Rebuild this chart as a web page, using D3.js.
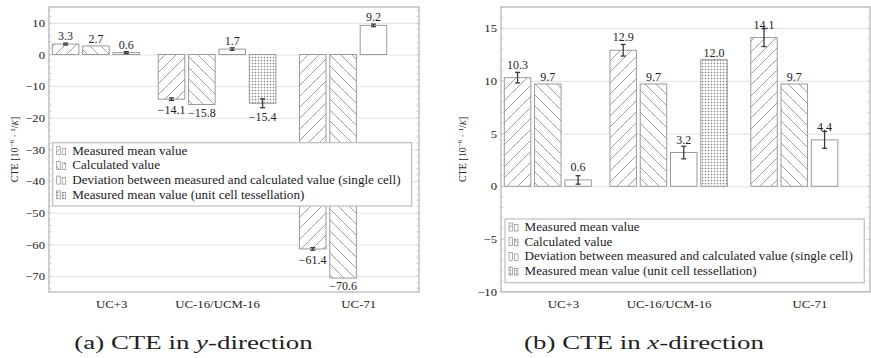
<!DOCTYPE html>
<html><head><meta charset="utf-8">
<script src="https://cdn.jsdelivr.net/npm/d3@7"></script>
<style>
body{margin:0;background:#fff}
svg{display:block}
text{font-family:"Liberation Serif","Times New Roman",serif;fill:#222}
</style>
</head><body>
<svg id="c" width="871" height="358"></svg>
<script>
// ---------------- data ----------------
const categories = ["UC+3", "UC-16/UCM-16", "UC-71"];
const categoryX = [0, 3, 7];
const seriesNames = [
  "Measured mean value",
  "Calculated value",
  "Deviation between measured and calculated value (single cell)",
  "Measured mean value (unit cell tessellation)"
];
// CTE in y-direction  [10^-6 1/K]
const cteYValues = [[3.3, -14.1, -61.4], [2.7, -15.8, -70.6], [0.6, 1.7, 9.2], [null, -15.4, null]];
const cteYErrors = [[0.3, 0.4, 0.4], [null, null, null], [0.3, 0.4, 0.4], [null, 1.4, null]];
// CTE in x-direction
const cteXValues = [[10.3, 12.9, 14.1], [9.7, 9.7, 9.7], [0.6, 3.2, 4.4], [null, 12.0, null]];
const cteXErrors = [[0.5, 0.55, 0.85], [null, null, null], [0.4, 0.6, 0.8], [null, null, null]];
const yTicksA = [-70, -60, -50, -40, -30, -20, -10, 0, 10];
const yTicksB = [-10, -5, 0, 5, 10, 15];
const captionA = ["(a) CTE in ", "y", "-direction"];
const captionB = ["(b) CTE in ", "x", "-direction"];

// ---------------- drawing ----------------
const svg = d3.select("#c");
const defs = svg.append("defs");
function hatch(id, d) {
  const p = defs.append("pattern").attr("id", id).attr("patternUnits", "userSpaceOnUse")
    .attr("width", 11).attr("height", 11);
  p.append("rect").attr("width", 11).attr("height", 11).attr("fill", "#fff");
  p.append("path").attr("d", d).attr("stroke", "#8c8c8c").attr("stroke-width", 0.8).attr("fill", "none");
}
hatch("ne", "M0,11L11,0M-2,2L2,-2M9,13L13,9");
hatch("nw", "M0,0L11,11M-2,9L2,13M9,-2L13,2");
const gp = defs.append("pattern").attr("id", "grid").attr("patternUnits", "userSpaceOnUse")
  .attr("width", 3).attr("height", 3);
gp.append("rect").attr("width", 3).attr("height", 3).attr("fill", "#fff");
gp.append("path").attr("d", "M0,0.5H3M0.5,0V3").attr("stroke", "#d4d4d4").attr("stroke-width", 0.6);
gp.append("rect").attr("width", 1.1).attr("height", 1.1).attr("fill", "#8a8a8a");
const fills = ["url(#ne)", "url(#nw)", "#fff", "url(#grid)"];

function stretch(sel, sx) {
  sel.each(function () {
    const L = this.getComputedTextLength();
    this.setAttribute("textLength", L * sx);
    this.setAttribute("lengthAdjust", "spacingAndGlyphs");
  });
}

function chart(cfg) {
  const x = d3.scaleLinear().domain([-1.76, 8.72]).range([cfg.left, cfg.right]);
  const y = d3.scaleLinear().domain(cfg.domain).range([cfg.bottom, cfg.top]);
  const W = cfg.right - cfg.left;
  const root = svg.append("g");

  // grid
  root.append("g").attr("transform", `translate(${cfg.left},0)`)
    .call(d3.axisLeft(y).tickValues(cfg.ticks).tickSize(-W).tickFormat(""))
    .call(g => { g.select(".domain").remove(); g.selectAll("line").attr("stroke", "#e2e2e2").attr("stroke-width", 1); });

  // minor ticks on both vertical sides
  const minors = d3.range(Math.ceil(cfg.domain[0] / cfg.minor) * cfg.minor, cfg.domain[1] + 1e-9, cfg.minor);
  const mt = root.append("g").attr("stroke", "#c8c8c8").attr("stroke-width", 0.8);
  minors.forEach(v => {
    mt.append("line").attr("x1", cfg.left).attr("x2", cfg.left + 2.5).attr("y1", y(v)).attr("y2", y(v));
    mt.append("line").attr("x1", cfg.right).attr("x2", cfg.right - 2.5).attr("y1", y(v)).attr("y2", y(v));
  });

  // bars
  const bw = x(0.752) - x(0), step = x(0.86) - x(0);
  const flat = [];
  cfg.values.forEach((ser, s) => ser.forEach((v, c) => {
    if (v != null) flat.push({ s, c, v, e: cfg.errors[s][c], cx: x(categoryX[c]) + (s - 1.5) * step });
  }));
  root.append("g").selectAll("rect").data(flat).join("rect")
    .attr("x", d => d.cx - bw / 2).attr("width", bw)
    .attr("y", d => Math.min(y(d.v), y(0))).attr("height", d => Math.abs(y(d.v) - y(0)))
    .attr("fill", d => fills[d.s]).attr("stroke", "#9a9a9a").attr("stroke-width", 1);

  // error bars
  const eg = root.append("g").attr("stroke", "#3a3a3a").attr("stroke-width", 1.3);
  flat.filter(d => d.e).forEach(d => {
    const y1 = y(d.v + d.e), y2 = y(d.v - d.e);
    eg.append("line").attr("x1", d.cx).attr("x2", d.cx).attr("y1", y1).attr("y2", y2);
    eg.append("line").attr("x1", d.cx - 2.5).attr("x2", d.cx + 2.5).attr("y1", y1).attr("y2", y1);
    eg.append("line").attr("x1", d.cx - 2.5).attr("x2", d.cx + 2.5).attr("y1", y2).attr("y2", y2);
  });

  // value labels
  root.append("g").selectAll("text").data(flat).join("text")
    .attr("x", d => d.cx)
    .attr("y", d => d.v >= 0
      ? (d.e ? (cfg.errAbove ? y(d.v) - cfg.errAbove : y(d.v + d.e) - 3) : y(d.v) - 2.5)
      : (d.e ? y(d.v - d.e) + 5 : y(d.v) + 3.5) + 8.6)
    .attr("text-anchor", "middle").attr("font-size", 12)
    .text(d => d3.format(".1f")(d.v).replace("-", "\u2212"));

  // frame
  root.append("rect").attr("x", cfg.left).attr("y", cfg.top).attr("width", W).attr("height", cfg.bottom - cfg.top)
    .attr("fill", "none").attr("stroke", "#bcbcbc").attr("stroke-width", 1.4);

  // y tick labels
  const ya = root.append("g").attr("transform", `translate(${cfg.left},0)`)
    .call(d3.axisLeft(y).tickValues(cfg.ticks).tickSize(0).tickPadding(4))
    .attr("font-family", "Liberation Serif");
  ya.select(".domain").remove();
  ya.selectAll("text").attr("font-size", 11).attr("fill", "#222")
    .call(stretch, 1.15);

  // x category labels
  const xa = root.append("g").attr("transform", `translate(0,${cfg.bottom})`)
    .call(d3.axisBottom(x).tickValues(categoryX).tickFormat((d, i) => categories[i]).tickSize(0).tickPadding(9))
    .attr("font-family", "Liberation Serif");
  xa.select(".domain").remove();
  xa.selectAll("text").attr("font-size", 10.5).attr("fill", "#222")
    .call(stretch, 1.22);

  // legend
  const L = cfg.legend;
  const lg = root.append("g");
  lg.append("rect").attr("x", L.x).attr("y", L.y).attr("width", L.w).attr("height", L.h)
    .attr("fill", "#fff").attr("stroke", "#c2c2c2").attr("stroke-width", 1.3);
  seriesNames.forEach((name, i) => {
    const by = L.y + 12 + i * 14.7;
    lg.append("rect").attr("x", L.x + 4).attr("y", by - 8).attr("width", 3.5).attr("height", 8)
      .attr("fill", fills[i]).attr("stroke", "#8a8a8a").attr("stroke-width", 0.7);
    lg.append("rect").attr("x", L.x + 9.5).attr("y", by - 6.5).attr("width", 3.5).attr("height", 6.5)
      .attr("fill", fills[i]).attr("stroke", "#8a8a8a").attr("stroke-width", 0.7);
    lg.append("text").attr("x", L.x + 19.5).attr("y", by).attr("font-size", 12.5).text(name)
      .call(stretch, 1.05);
  });

  // y label
  const cy = (cfg.top + cfg.bottom) / 2;
  const yl = root.append("text").attr("transform", `translate(${cfg.ylabelX},${cy}) rotate(-90)`)
    .attr("text-anchor", "middle").attr("font-size", 10);
  yl.append("tspan").text("CTE [10");
  yl.append("tspan").attr("font-size", 7).attr("dy", -4).text("\u22126");
  yl.append("tspan").attr("dy", 4).text(" \u00b7 ");
  yl.append("tspan").attr("font-size", 7).attr("dy", -3).text("1");
  yl.append("tspan").attr("dy", 3).text("/");
  yl.append("tspan").attr("font-size", 8).attr("font-style", "italic").text("K");
  yl.append("tspan").text("]");

  // caption
  const cap = root.append("text").attr("x", cfg.captionX).attr("y", 348.5)
    .attr("text-anchor", "middle").attr("font-size", 19.5);
  cap.append("tspan").text(cfg.caption[0]);
  cap.append("tspan").attr("font-style", "italic").text(cfg.caption[1]);
  cap.append("tspan").text(cfg.caption[2]);
  cap.call(stretch, 1.38);
}

chart({
  left: 49, right: 419, top: 7, bottom: 292, domain: [-75, 15],
  values: cteYValues, errors: cteYErrors, ticks: yTicksA, minor: 2,
  legend: { x: 52.7, y: 142.7, w: 359, h: 63.3 },
  ylabelX: 18, caption: captionA, captionX: 193.5, errAbove: 0
});
chart({
  left: 501, right: 870, top: 7, bottom: 291.7, domain: [-10, 17],
  values: cteXValues, errors: cteXErrors, ticks: yTicksB, minor: 1,
  legend: { x: 505, y: 219, w: 359.3, h: 63.7 },
  ylabelX: 466, caption: captionB, captionX: 644, errAbove: 9
});
</script>
</body></html>
